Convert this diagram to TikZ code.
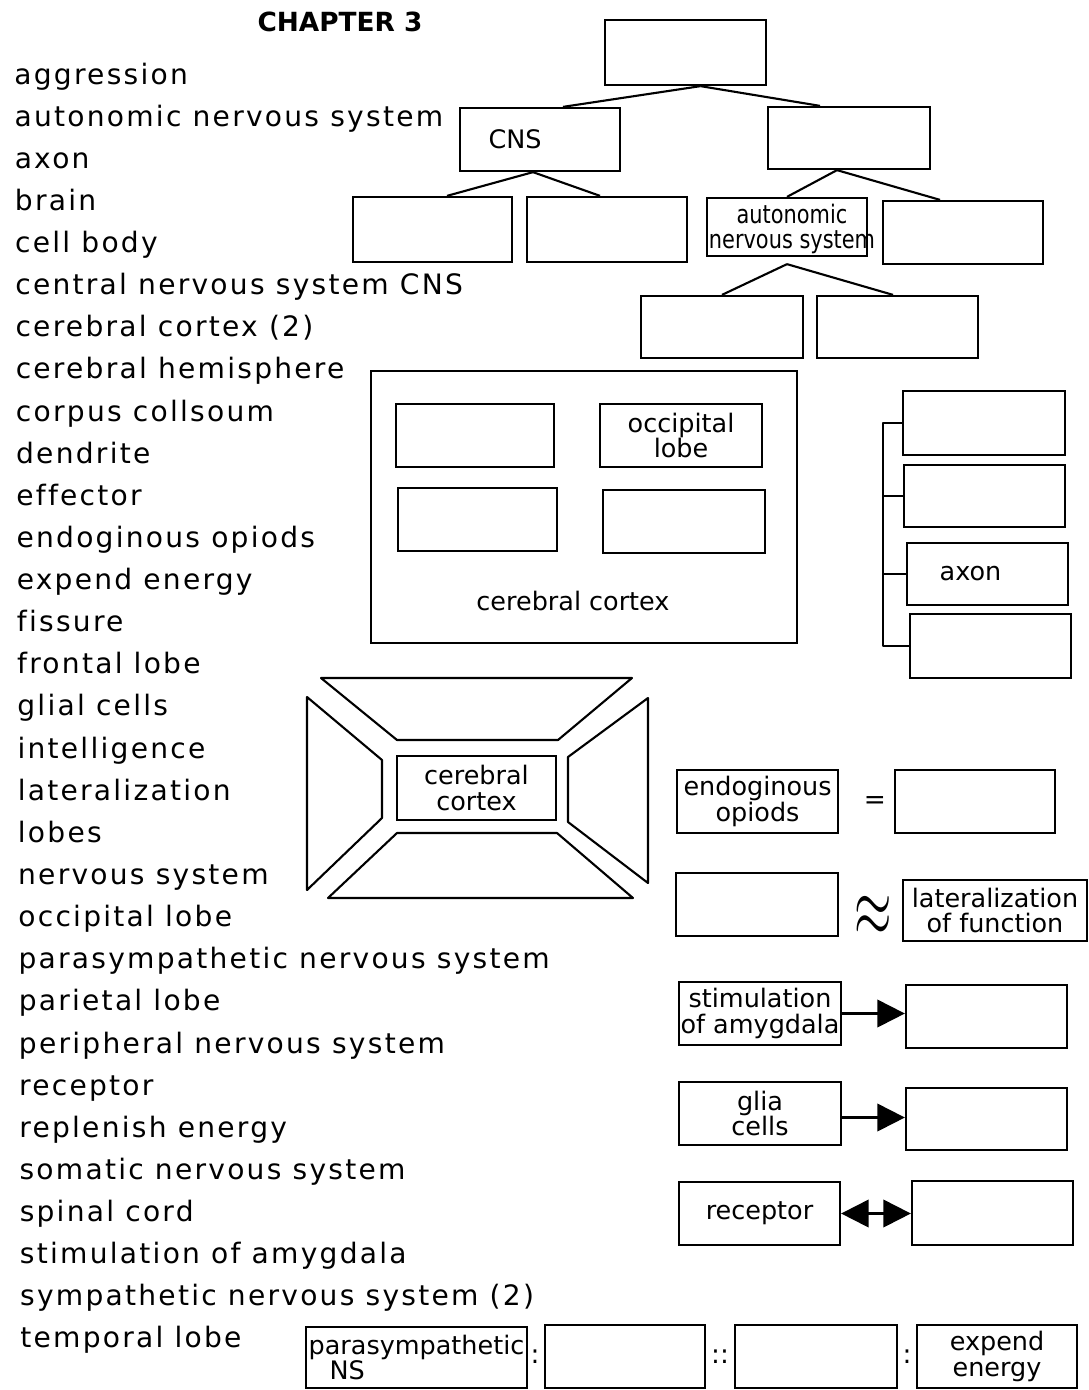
\documentclass[tikz,border=0pt]{standalone}
\usepackage{fontspec}
\setmainfont{DejaVu Sans}
\newfontfamily\listfont[LetterSpace=8,Ligatures=NoCommon]{DejaVu Sans}
\newfontfamily\narrowfont[FakeStretch=0.82]{DejaVu Sans}
\usetikzlibrary{arrows.meta,calc}
\tikzset{
  box/.style={draw, line width=1.3pt, minimum width=3.2cm, minimum height=1.26cm, inner sep=0pt, align=center, font=\fontsize{14.5}{14.5}\selectfont},
  link/.style={line width=1.2pt, line join=round},
  item/.style={anchor=base west, inner sep=0pt, font=\listfont\fontsize{16}{16}\selectfont},
  head/.style={inner sep=0pt, font=\bfseries\fontsize{15}{15}\selectfont},
  lbl/.style={inner sep=0pt, font=\fontsize{14.5}{14.5}\selectfont},
  sym/.style={inner sep=0pt, font=\fontsize{15}{15}\selectfont},
  arr/.style={line width=1.2pt, -{Triangle[length=0.55cm,width=0.55cm]}},
  darr/.style={line width=1.2pt, {Triangle[length=0.55cm,width=0.55cm]}-{Triangle[length=0.55cm,width=0.55cm]}},
}

\begin{document}
\begin{tikzpicture}[x=0.02cm, y=-0.02cm]
  \useasboundingbox (0,0) rectangle (1089,1390);
  \node[head] (title) at (340,22) {CHAPTER 3};
  \foreach \w [count=\i] in {aggression, autonomic nervous system, axon, brain, cell body,
      central nervous system CNS, cerebral cortex (2), cerebral hemisphere, corpus collsoum,
      dendrite, effector, endoginous opiods, expend energy, fissure, frontal lobe, glial cells,
      intelligence, lateralization, lobes, nervous system, occipital lobe,
      parasympathetic nervous system, parietal lobe, peripheral nervous system, receptor,
      replenish energy, somatic nervous system, spinal cord, stimulation of amygdala,
      sympathetic nervous system (2), temporal lobe}
    \node[item] (w\i) at ({14+0.2*(\i-1)},{84+42.13*(\i-1)}) {\w};

  \node[box, minimum width=3.22cm, minimum height=1.3cm] (ns) at (685.5,52.5) {};
  \node[box] (cns) at (540,139.5) {CNS\hspace*{1cm}};
  \node[box, minimum width=3.24cm, minimum height=1.24cm] (pns) at (849,138) {};
  \node[box, minimum width=3.18cm, minimum height=1.3cm] (brain) at (432.5,229.5) {};
  \node[box, minimum height=1.3cm] (cord) at (607,229.5) {};
  \node[box, minimum height=1.16cm] (ans) at (787,227) {};
  \node[lbl, font=\narrowfont\fontsize{14.5}{14.5}\selectfont, align=center] (anstxt) at (792,229) {autonomic\\nervous system};
  \node[box] (sns) at (963,232.5) {};
  \node[box, minimum width=3.24cm, minimum height=1.24cm] (symp) at (722,327) {};
  \node[box, minimum width=3.22cm, minimum height=1.24cm] (para) at (897.5,327) {};
  \draw[link] ([xshift=0.3cm]ns.south) -- ([xshift=0.46cm]cns.north);
  \draw[link] ([xshift=0.3cm]ns.south) -- ([xshift=-0.58cm]pns.north);
  \draw[link] ([xshift=-0.14cm]cns.south) -- ([xshift=0.29cm]brain.north);
  \draw[link] ([xshift=-0.14cm]cns.south) -- ([xshift=-0.14cm]cord.north);
  \draw[link] ([xshift=-0.24cm]pns.south) -- (ans.north);
  \draw[link] ([xshift=-0.24cm]pns.south) -- ([xshift=-0.46cm]sns.north);
  \draw[link] ([yshift=-0.14cm]ans.south) -- (symp.north);
  \draw[link] ([yshift=-0.14cm]ans.south) -- ([xshift=-0.09cm]para.north);

  \node[box, minimum width=8.52cm, minimum height=5.44cm] (cortex) at (584,507) {};
  \node[box, minimum width=3.16cm] (lobeA) at (475,435.5) {};
  \node[box, minimum width=3.24cm] (occ) at (681,435.5) {occipital\\lobe};
  \node[box, minimum width=3.18cm] (lobeC) at (477.5,519.5) {};
  \node[box, minimum width=3.24cm] (lobeD) at (684,521.5) {};
  \node[lbl] (cortexlbl) at (573,601) {cerebral cortex};

  \node[box, minimum width=3.24cm, minimum height=1.28cm] (dend) at (984,423) {};
  \node[box, minimum width=3.22cm, minimum height=1.24cm] (soma) at (984.5,496) {};
  \node[box, minimum width=3.22cm, minimum height=1.24cm] (axon) at (987.5,574) {axon\hspace*{0.68cm}};
  \node[box, minimum width=3.22cm, minimum height=1.28cm] (term) at (990.5,646) {};
  \coordinate (spine) at (883,0);
  \draw[link] (dend.west) -- (dend.west -| spine) -- (term.west -| spine) -- (term.west);
  \draw[link] (soma.west) -- (soma.west -| spine);
  \draw[link] (axon.west) -- (axon.west -| spine);

  \draw[link] (321,678) -- (632,678) -- (558,740) -- (397,740) -- cycle;
  \draw[link] (307,697) -- (382,760) -- (382,818) -- (307,890) -- cycle;
  \draw[link] (648,698) -- (648,883) -- (568,822) -- (568,757) -- cycle;
  \draw[link] (397,833) -- (557,833) -- (633,898) -- (328,898) -- cycle;
  \node[box, minimum width=3.18cm, minimum height=1.28cm] (cc) at (476.5,788) {cerebral\\cortex};

  \node[box, minimum width=3.22cm] (opiods) at (757.5,801.5) {endoginous\\opiods};
  \node[sym] (eqsign) at (875,803) {=};
  \node[box] (endorph) at (975,801.5) {};
  \node[box, minimum width=3.24cm] (hemi) at (757,904.5) {};
  \node[sym, font=\fontsize{28}{28}\selectfont] (approx) at (873,916) {\scalebox{1.1}[1.9]{$\approx$}};
  \node[box, minimum width=3.68cm, minimum height=1.22cm] (lat) at (995,910.5) {lateralization\\of function};

  \node[box, minimum width=3.24cm] (amyg) at (760,1013.5) {stimulation\\of amygdala};
  \node[box, minimum width=3.22cm] (aggr) at (986.5,1016.5) {};
  \draw[arr] (amyg.east) -- (amyg.east -| aggr.west);
  \node[box, minimum width=3.24cm] (glia) at (760,1113.5) {glia\\cells};
  \node[box, minimum width=3.22cm, minimum height=1.24cm] (glfun) at (986.5,1119) {};
  \draw[arr] ([yshift=-0.08cm]glia.east) -- ([yshift=-0.08cm]glia.east -| glfun.west);
  \node[box, minimum width=3.22cm] (recep) at (759.5,1213.5) {receptor};
  \node[box, minimum width=3.22cm, minimum height=1.28cm] (effect) at (992.5,1213) {};
  \draw[darr] (recep.east) -- (recep.east -| effect.west);

  \node[box, minimum width=4.42cm, minimum height=1.22cm, align=left] (psns) at (416.5,1357.5) {parasympathetic\\\hspace*{0.42cm}NS};
  \node[sym] (col1) at (535,1357) {:};
  \node[box] (blank1) at (625,1356.5) {};
  \node[sym] (col2) at (720,1357) {::};
  \node[box, minimum width=3.24cm] (blank2) at (816,1356.5) {};
  \node[sym] (col3) at (907,1357) {:};
  \node[box] (energy) at (997,1356.5) {expend\\energy};
\end{tikzpicture}
\end{document}
